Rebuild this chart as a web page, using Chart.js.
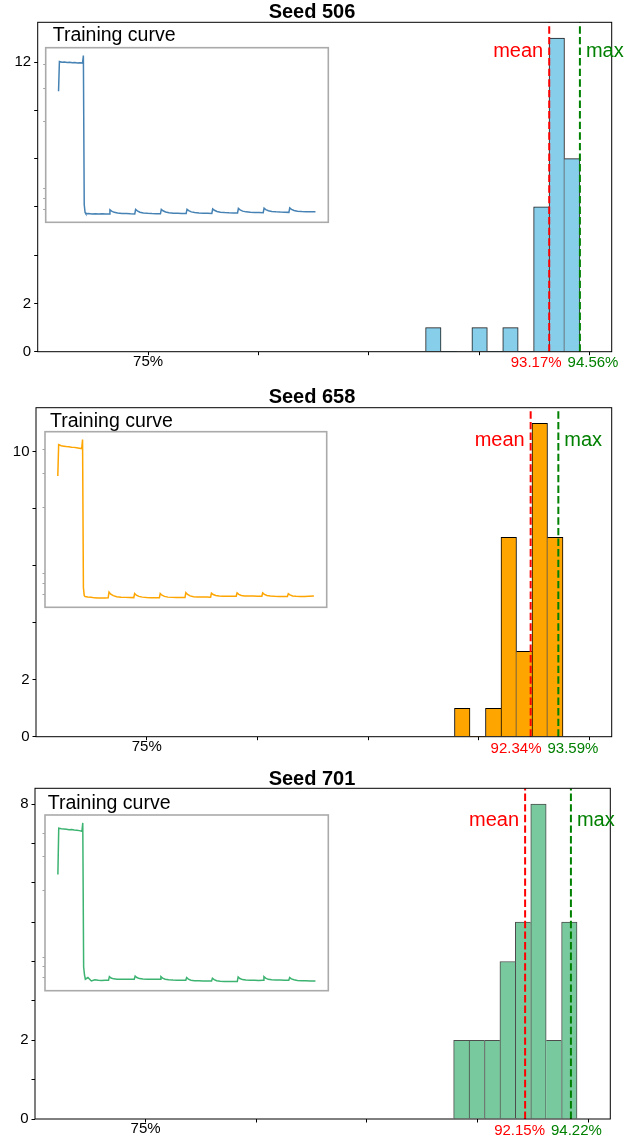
<!DOCTYPE html>
<html>
<head>
<meta charset="utf-8">
<title>Accuracy histograms per seed</title>
<script src="https://cdn.jsdelivr.net/npm/chart.js@4.4.1/dist/chart.umd.min.js"></script>
<style>
  html, body { margin: 0; padding: 0; background: #ffffff; }
  #figure { position: relative; width: 641px; height: 1138px; overflow: hidden; background: #ffffff; }
  #figure canvas { position: absolute; }
</style>
</head>
<body>
<div id="figure"></div>
<script>
// ---------------- data ----------------
const seedNames = ['506', '658', '701'];

// number of runs per accuracy bin
const counts506 = [1, 0, 0, 1, 0, 1, 0, 6, 13, 8];
const counts658 = [1, 0, 1, 7, 3, 11, 7];
const counts701 = [2, 2, 2, 4, 5, 8, 2, 5];

// lower edge of the first bin and the bin width (accuracy, %)
const binStart = [87.57, 88.90, 88.92];
const binWidth = [0.699, 0.700, 0.697];

const meanAcc = [93.17, 92.34, 92.15];
const maxAcc = [94.56, 93.59, 94.22];

const xTickVals = [75, 80, 85, 90, 95];
const xTickText = ['75%', '', '', '', ''];

const yTickStep = [2, 2, 1];
const yLabeled506 = [0, 2, 12];
const yLabeled658 = [0, 2, 10];
const yLabeled701 = [0, 2, 8];

// training loss, sampled at these steps
const curveSteps = [0, 1, 4, 7, 10, 13, 16, 19, 22, 25, 28, 29, 30, 31, 32, 35, 39, 43, 47, 51, 55, 59,
  60, 62, 65, 69, 74, 79, 84, 89,
  90, 92, 95, 99, 104, 109, 114, 119,
  120, 122, 125, 129, 134, 139, 144, 149,
  150, 152, 155, 159, 164, 169, 174, 179,
  180, 182, 185, 189, 194, 199, 204, 209,
  210, 212, 215, 219, 224, 229, 234, 239,
  240, 242, 245, 249, 254, 259, 264, 269,
  270, 272, 275, 279, 284, 289, 294, 300];

const loss506 = [2.89, 4.13, 4.09, 4.10, 4.08, 4.09, 4.07, 4.08, 4.06, 4.07, 4.05, 4.43, 0.74, 0.675, 0.664, 0.666, 0.663, 0.665, 0.662, 0.664, 0.663, 0.662,
  0.697, 0.686, 0.676, 0.670, 0.667, 0.666, 0.664, 0.663,
  0.700, 0.688, 0.677, 0.671, 0.668, 0.666, 0.665, 0.664,
  0.701, 0.689, 0.679, 0.673, 0.669, 0.668, 0.667, 0.666,
  0.701, 0.690, 0.680, 0.674, 0.671, 0.669, 0.668, 0.667,
  0.705, 0.693, 0.683, 0.677, 0.674, 0.672, 0.671, 0.670,
  0.708, 0.696, 0.686, 0.680, 0.677, 0.675, 0.674, 0.673,
  0.711, 0.699, 0.689, 0.683, 0.680, 0.678, 0.677, 0.676,
  0.713, 0.701, 0.691, 0.685, 0.682, 0.681, 0.680, 0.680];

const loss658 = [2.91, 4.24, 4.18, 4.16, 4.14, 4.13, 4.11, 4.10, 4.08, 4.06, 4.04, 4.50, 0.76, 0.69, 0.683, 0.679, 0.677, 0.672, 0.670, 0.670, 0.671, 0.672,
  0.721, 0.703, 0.690, 0.682, 0.678, 0.676, 0.675, 0.674,
  0.708, 0.694, 0.684, 0.678, 0.675, 0.673, 0.672, 0.672,
  0.708, 0.694, 0.684, 0.678, 0.676, 0.675, 0.674, 0.674,
  0.716, 0.700, 0.688, 0.682, 0.680, 0.679, 0.679, 0.678,
  0.712, 0.700, 0.692, 0.688, 0.686, 0.686, 0.685, 0.685,
  0.714, 0.701, 0.692, 0.688, 0.687, 0.687, 0.686, 0.686,
  0.714, 0.701, 0.691, 0.687, 0.685, 0.684, 0.684, 0.683,
  0.706, 0.696, 0.688, 0.685, 0.684, 0.684, 0.686, 0.687];

const loss701 = [2.43, 4.24, 4.21, 4.20, 4.19, 4.17, 4.18, 4.15, 4.14, 4.12, 4.09, 4.52, 0.80, 0.725, 0.689, 0.703, 0.675, 0.684, 0.680, 0.679, 0.681, 0.680,
  0.711, 0.699, 0.692, 0.689, 0.688, 0.688, 0.689, 0.689,
  0.716, 0.703, 0.694, 0.690, 0.689, 0.689, 0.688, 0.689,
  0.711, 0.698, 0.689, 0.684, 0.682, 0.681, 0.680, 0.680,
  0.703, 0.690, 0.681, 0.677, 0.676, 0.675, 0.675, 0.675,
  0.697, 0.685, 0.676, 0.672, 0.671, 0.670, 0.670, 0.671,
  0.708, 0.695, 0.686, 0.682, 0.680, 0.680, 0.679, 0.680,
  0.711, 0.698, 0.688, 0.684, 0.682, 0.682, 0.681, 0.681,
  0.703, 0.692, 0.684, 0.679, 0.677, 0.676, 0.675, 0.675];

// ---------------- styling ----------------
const barFill = ['#87CEEB', '#FFA500', '#78C99D'];
const barEdge = ['#1a1a1a', '#000000', '#4d4d4d'];
const curveColor = ['#4682B4', '#FFA500', '#3CB371'];
const meanColor = '#ff0000';
const maxColor = '#008000';

const FONT = '"Liberation Sans", Arial, Helvetica, sans-serif';
Chart.defaults.font.family = FONT;
Chart.defaults.color = '#000000';

// page geometry of each panel (plot box, inset box, text anchors)
const panels = [
  { top: 0,   height: 375, L: 37.7, R: 611.7, T: 22.3,  B: 351.7,  inset: [45.7, 328.3, 47.7, 222.3],
    capX: 52.7, capY: 40.7,  titleY: 18.3,  noteY: 57.3,  valY: 366.7 },
  { top: 375, height: 385, L: 36.0, R: 611.7, T: 407.7, B: 736.7,  inset: [45.0, 326.7, 431.7, 607.3],
    capX: 50.0, capY: 426.7, titleY: 403.3, noteY: 446.0, valY: 752.7 },
  { top: 760, height: 378, L: 35.0, R: 610.3, T: 788.3, B: 1119.0, inset: [45.0, 328.3, 815.0, 990.7],
    capX: 47.7, capY: 809.0, titleY: 785.0, noteY: 826.0, valY: 1135.3 }
];

function addCanvas(left, top, w, h) {
  const c = document.createElement('canvas');
  c.width = w; c.height = h;
  c.style.left = left + 'px'; c.style.top = top + 'px';
  c.style.width = w + 'px'; c.style.height = h + 'px';
  document.getElementById('figure').appendChild(c);
  return c;
}

// frame, title and mean/max annotations of a histogram panel
function panelDecor(i) {
  const p = panels[i];
  return {
    id: 'panelDecor' + i,
    afterDatasetsDraw(chart) {
      const a = chart.chartArea, ctx = chart.ctx;
      ctx.save();
      ctx.strokeStyle = '#000000';
      ctx.lineWidth = 1;
      ctx.strokeRect(a.left, a.top, a.right - a.left, a.bottom - a.top);
      ctx.restore();
    },
    afterDraw(chart) {
      const ctx = chart.ctx, xs = chart.scales.x, off = p.top;
      const mx = xs.getPixelForValue(meanAcc[i]);
      const Mx = xs.getPixelForValue(maxAcc[i]);
      ctx.save();
      ctx.textBaseline = 'alphabetic';
      ctx.fillStyle = '#000000';
      ctx.font = 'bold 20px ' + FONT;
      ctx.textAlign = 'center';
      ctx.fillText('Seed ' + seedNames[i], 312, p.titleY - off);
      ctx.font = '19.5px ' + FONT;
      ctx.textAlign = 'left';
      ctx.fillText('Training curve', p.capX, p.capY - off);
      ctx.font = '20px ' + FONT;
      ctx.fillStyle = meanColor; ctx.textAlign = 'right';
      ctx.fillText('mean', mx - 6, p.noteY - off);
      ctx.fillStyle = maxColor; ctx.textAlign = 'left';
      ctx.fillText('max', Mx + 6, p.noteY - off);
      const mid = (mx + Mx) / 2;
      ctx.font = '15px ' + FONT;
      ctx.fillStyle = meanColor; ctx.textAlign = 'right';
      ctx.fillText(meanAcc[i].toFixed(2) + '%', mid - 3, p.valY - off);
      ctx.fillStyle = maxColor; ctx.textAlign = 'left';
      ctx.fillText(maxAcc[i].toFixed(2) + '%', mid + 3, p.valY - off);
      ctx.restore();
    }
  };
}

function buildPanel(i) {
  const p = panels[i];
  const counts = [counts506, counts658, counts701][i];
  const yLabeled = [yLabeled506, yLabeled658, yLabeled701][i];
  const yMax = Math.max(...counts) * 1.05;
  const canvas = addCanvas(0, p.top, 641, p.height);
  const bars = counts.map((c, k) => ({ x: binStart[i] + binWidth[i] * (k + 0.5), y: c }));
  // each shared bin edge is outlined once, by the taller neighbour
  const edges = ctx => {
    const k = ctx.dataIndex;
    const c = counts[k];
    const prev = k > 0 ? counts[k - 1] : 0;
    const next = k < counts.length - 1 ? counts[k + 1] : 0;
    return { top: 1, bottom: 0, left: c >= prev ? 1 : 0, right: c > next ? 1 : 0 };
  };
  const tickGrid = { display: true, drawOnChartArea: false, drawTicks: true, tickLength: 3.5,
                     color: '#000000', lineWidth: 1, offset: false };
  new Chart(canvas, {
    type: 'bar',
    data: {
      datasets: [
        { type: 'bar', order: 2, data: bars, backgroundColor: barFill[i], borderColor: barEdge[i],
          borderWidth: edges, borderSkipped: false, barPercentage: 1, categoryPercentage: 1 },
        { type: 'line', order: 1, data: [{ x: meanAcc[i], y: 0 }, { x: meanAcc[i], y: yMax }],
          borderColor: meanColor, borderWidth: 2, borderDash: [7.4, 3.2], pointRadius: 0, fill: false },
        { type: 'line', order: 1, data: [{ x: maxAcc[i], y: 0 }, { x: maxAcc[i], y: yMax }],
          borderColor: maxColor, borderWidth: 2, borderDash: [7.4, 3.2], pointRadius: 0, fill: false }
      ]
    },
    options: {
      responsive: false, animation: false, devicePixelRatio: 1, events: [],
      layout: { padding: { left: 0, top: p.T - p.top, right: 641 - p.R, bottom: 0 } },
      plugins: { legend: { display: false }, tooltip: { enabled: false }, title: { display: false } },
      scales: {
        x: {
          type: 'linear', min: 70, max: 96, offset: false,
          afterBuildTicks: s => { s.ticks = xTickVals.map(v => ({ value: v })); },
          afterFit: s => { s.height = p.height - (p.B - p.top); },
          ticks: { autoSkip: false, maxRotation: 0, minRotation: 0, padding: -1, color: '#000000',
                   font: { size: 15, lineHeight: 1 },
                   callback: v => { const j = xTickVals.indexOf(v); return j >= 0 ? xTickText[j] : ''; } },
          grid: tickGrid,
          border: { display: false }
        },
        y: {
          type: 'linear', min: 0, max: yMax,
          afterBuildTicks: s => {
            const t = [];
            for (let v = 0; v <= yMax; v += yTickStep[i]) t.push({ value: v });
            s.ticks = t;
          },
          afterFit: s => { s.width = p.L; },
          ticks: { autoSkip: false, padding: 3, color: '#000000', font: { size: 15 },
                   callback: v => yLabeled.includes(v) ? String(v) : '' },
          grid: tickGrid,
          border: { display: false }
        }
      }
    },
    plugins: [panelDecor(i)]
  });
}

// minor ticks of a log axis: 2..9 times each power of ten
function logMinorTicks(lo, hi) {
  const out = [];
  for (let e = Math.floor(Math.log10(lo)); e <= Math.ceil(Math.log10(hi)); e++) {
    for (let m = 2; m <= 9; m++) {
      const v = m * Math.pow(10, e);
      if (v >= lo && v <= hi) out.push(v);
    }
  }
  return out;
}

const insetFrame = {
  id: 'insetFrame',
  beforeDatasetsDraw(chart) {
    const a = chart.chartArea, ctx = chart.ctx;
    ctx.save();
    ctx.fillStyle = '#ffffff';
    ctx.fillRect(a.left, a.top, a.right - a.left, a.bottom - a.top);
    ctx.restore();
  },
  afterDatasetsDraw(chart) {
    const a = chart.chartArea, ctx = chart.ctx;
    ctx.save();
    ctx.strokeStyle = '#aaaaaa';
    ctx.lineWidth = 1.6;
    ctx.strokeRect(a.left, a.top, a.right - a.left, a.bottom - a.top);
    ctx.restore();
  }
};

function buildInset(i) {
  const p = panels[i];
  const [L, R, T, B] = p.inset;
  const loss = [loss506, loss658, loss701][i];
  const cLeft = Math.floor(L - 4), cTop = Math.floor(T - 2);
  const cRight = Math.ceil(R + 2), cBottom = Math.ceil(B + 2);
  const canvas = addCanvas(cLeft, cTop, cRight - cLeft, cBottom - cTop);

  // 5% margins around the data, in log space for the loss axis
  const xSpan = curveSteps[curveSteps.length - 1] - curveSteps[0];
  const xLo = curveSteps[0] - 0.05 * xSpan, xHi = curveSteps[curveSteps.length - 1] + 0.05 * xSpan;
  const lLo = Math.log10(Math.min(...loss)), lHi = Math.log10(Math.max(...loss));
  const yLo = Math.pow(10, lLo - 0.05 * (lHi - lLo)), yHi = Math.pow(10, lHi + 0.05 * (lHi - lLo));

  new Chart(canvas, {
    type: 'line',
    data: {
      datasets: [{
        data: curveSteps.map((s, k) => ({ x: s, y: loss[k] })),
        borderColor: curveColor[i], borderWidth: 1.5, pointRadius: 0, tension: 0, fill: false
      }]
    },
    options: {
      responsive: false, animation: false, devicePixelRatio: 1, events: [],
      layout: { padding: { left: 0, top: T - cTop, right: cRight - R, bottom: cBottom - B } },
      plugins: { legend: { display: false }, tooltip: { enabled: false } },
      scales: {
        x: { type: 'linear', display: false, min: xLo, max: xHi },
        y: {
          type: 'logarithmic', min: yLo, max: yHi,
          afterBuildTicks: s => { s.ticks = logMinorTicks(yLo, yHi).map(v => ({ value: v })); },
          afterFit: s => { s.width = L - cLeft; },
          ticks: { display: false },
          grid: { display: true, drawOnChartArea: false, drawTicks: true, tickLength: 2.5,
                  color: '#8c8c8c', lineWidth: 0.8 },
          border: { display: false }
        }
      }
    },
    plugins: [insetFrame]
  });
}

for (let i = 0; i < panels.length; i++) {
  buildPanel(i);
  buildInset(i);
}
</script>
</body>
</html>
